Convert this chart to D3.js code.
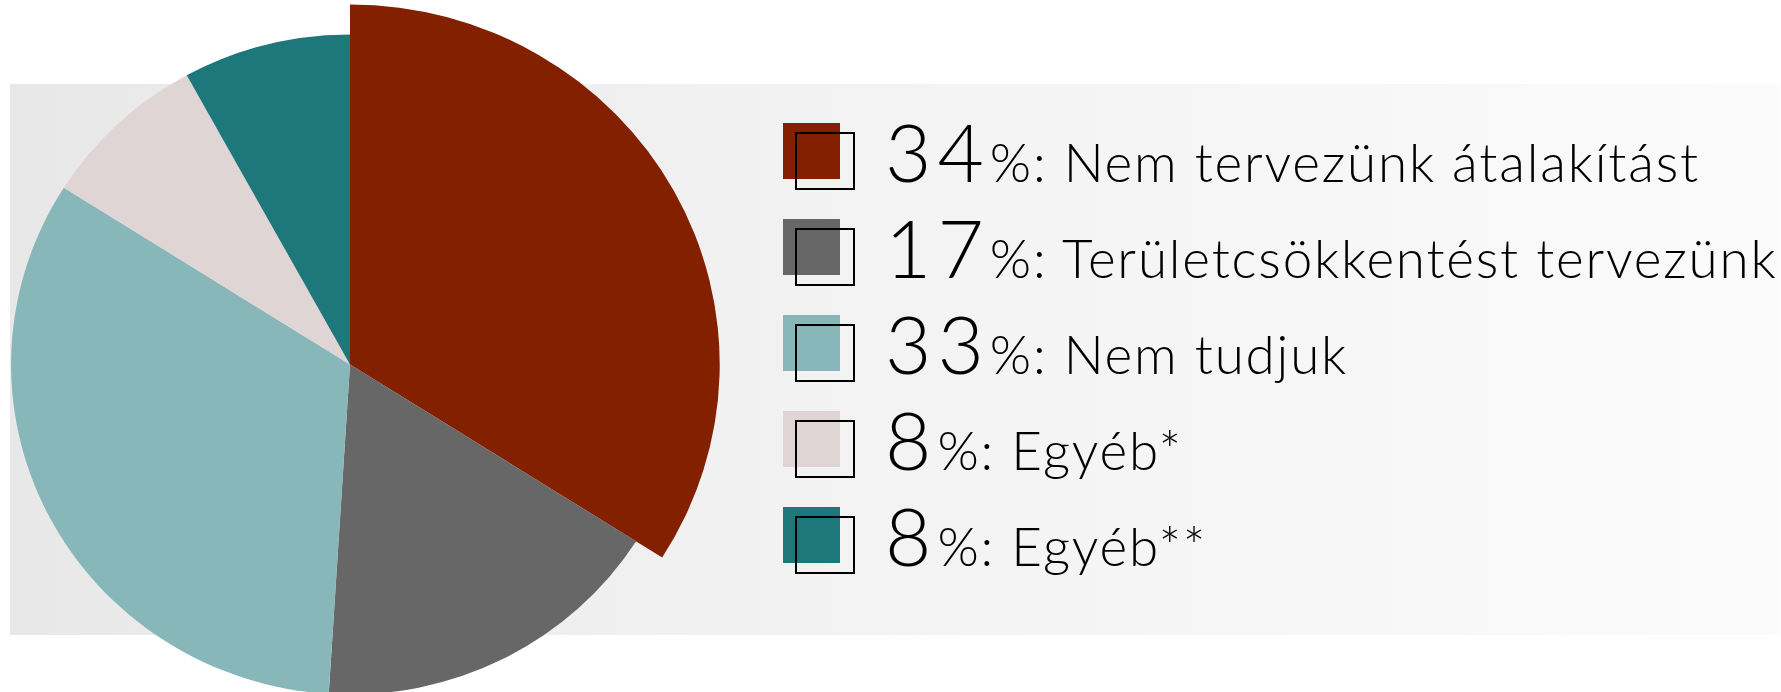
<!DOCTYPE html>
<html>
<head>
<meta charset="utf-8">
<script src="https://cdn.jsdelivr.net/npm/d3@7"></script>
<style>
  body { margin: 0; background: #fff; }
  svg { display: block; }
</style>
</head>
<body>
<div id="chart"></div>
<script>
// Adatok
const labels = ['Nem tervezünk átalakítást', 'Területcsökkentést tervezünk', 'Nem tudjuk', 'Egyéb*', 'Egyéb**'];
const values = [34, 17, 33, 8, 8];
const colors = ['#822000', '#676767', '#87b7b8', '#e0d5d5', '#1e777b'];
const sliced = [true, false, false, false, false];

const width = 1781;
const height = 692;

const svg = d3.select('#chart')
  .append('svg')
  .attr('width', width)
  .attr('height', height);

// Háttér sáv, balról jobbra világosodik
const grad = svg.append('defs').append('linearGradient')
  .attr('id', 'bg')
  .attr('x1', '0%').attr('x2', '100%')
  .attr('y1', '0%').attr('y2', '0%');
grad.append('stop').attr('offset', '0%').attr('stop-color', '#e8e8e8');
grad.append('stop').attr('offset', '50%').attr('stop-color', '#f3f3f3');
grad.append('stop').attr('offset', '100%').attr('stop-color', '#fbfbfb');

svg.append('rect')
  .attr('x', 10)
  .attr('y', 84)
  .attr('width', 1770)
  .attr('height', 551)
  .attr('fill', 'url(#bg)');

// Torta
const radius = 330;
const pie = d3.pie().sort(null).value(d => d.value);
const arc = d3.arc()
  .innerRadius(0)
  .outerRadius(d => d.data.sliced ? radius + 30 : radius);

const data = values.map((v, i) => ({ label: labels[i], value: v, color: colors[i], sliced: sliced[i] }));

const g = svg.append('g')
  .attr('transform', 'translate(350,364.5) scale(1.027,1)');

g.selectAll('path')
  .data(pie(data))
  .enter()
  .append('path')
  .attr('d', arc)
  .attr('fill', d => d.data.color);

// Jelmagyarázat
const legend = svg.append('g')
  .attr('transform', 'translate(783,182)');

const rowH = 96;

const rows = legend.selectAll('g')
  .data(data)
  .enter()
  .append('g')
  .attr('transform', (d, i) => `translate(0,${i * rowH})`);

rows.append('rect')
  .attr('x', 0)
  .attr('y', -59)
  .attr('width', 57)
  .attr('height', 56)
  .attr('fill', d => d.color);

rows.append('rect')
  .attr('x', 13)
  .attr('y', -49)
  .attr('width', 58)
  .attr('height', 56)
  .attr('fill', 'none')
  .attr('stroke', '#000')
  .attr('stroke-width', 2);

const txt = rows.append('text')
  .attr('x', 102)
  .attr('y', 0)
  .attr('font-family', 'Lato, sans-serif')
  .attr('font-weight', 300)
  .attr('fill', '#000');

txt.append('tspan')
  .attr('font-size', 80)
  .attr('letter-spacing', 6)
  .text(d => d.value);

txt.append('tspan')
  .attr('font-size', 53)
  .attr('letter-spacing', 1.8)
  .text(d => '%: ' + d.label);
</script>
</body>
</html>
